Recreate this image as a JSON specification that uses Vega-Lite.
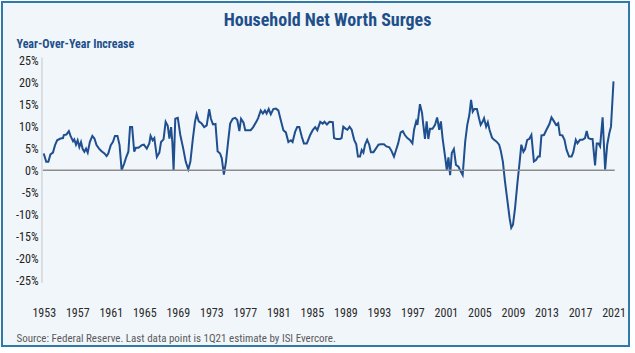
{
  "$schema": "https://vega.github.io/schema/vega-lite/v6.json",
  "width": 627,
  "height": 344,
  "autosize": {"type": "none"},
  "padding": {"left": 2, "top": 2, "right": 6, "bottom": 7},
  "background": "#ffffff",
  "config": {
    "view": {"fill": "#f1f6fa", "stroke": "#2e7bab", "strokeWidth": 2},
    "font": "Roboto Condensed, DejaVu Sans Condensed, Roboto, sans-serif",
    "axis": {"labelOverlap": false, "labelFlush": false}
  },
  "title": {
    "text": "Household Net Worth Surges",
    "font": "Roboto Condensed, DejaVu Sans Condensed, Roboto, sans-serif",
    "fontSize": 18,
    "fontWeight": "bold",
    "color": "#1f4f8a",
    "anchor": "middle",
    "baseline": "alphabetic",
    "offset": 0,
    "dy": 42,
    "dx": 12
  },
  "data": {
    "values": [
      {"year": 1953.0, "value": 3.8}, {"year": 1953.3, "value": 1.9}, {"year": 1953.55, "value": 1.9}, {"year": 1953.8, "value": 3.6},
      {"year": 1954.1, "value": 4.0}, {"year": 1954.35, "value": 5.7}, {"year": 1954.6, "value": 6.8}, {"year": 1955.0, "value": 7.2},
      {"year": 1955.3, "value": 7.3}, {"year": 1955.4, "value": 8.0}, {"year": 1955.7, "value": 8.1}, {"year": 1956.0, "value": 8.9},
      {"year": 1956.2, "value": 7.8}, {"year": 1956.5, "value": 6.6}, {"year": 1956.65, "value": 7.0}, {"year": 1956.85, "value": 5.8},
      {"year": 1957.05, "value": 6.8}, {"year": 1957.25, "value": 5.3}, {"year": 1957.45, "value": 6.4}, {"year": 1957.65, "value": 4.8},
      {"year": 1957.85, "value": 4.2}, {"year": 1958.05, "value": 4.9}, {"year": 1958.25, "value": 4.0}, {"year": 1958.5, "value": 6.4},
      {"year": 1958.8, "value": 7.8}, {"year": 1959.05, "value": 7.2}, {"year": 1959.3, "value": 5.7}, {"year": 1959.6, "value": 4.9},
      {"year": 1959.9, "value": 4.3}, {"year": 1960.25, "value": 3.8}, {"year": 1960.5, "value": 3.2}, {"year": 1960.7, "value": 3.8},
      {"year": 1961.0, "value": 5.7}, {"year": 1961.25, "value": 6.4}, {"year": 1961.5, "value": 7.8}, {"year": 1961.8, "value": 7.8},
      {"year": 1962.05, "value": 5.7}, {"year": 1962.3, "value": 0.0}, {"year": 1962.6, "value": 1.5}, {"year": 1962.85, "value": 3.0},
      {"year": 1963.1, "value": 4.2}, {"year": 1963.3, "value": 9.8}, {"year": 1963.55, "value": 9.8}, {"year": 1963.8, "value": 4.2},
      {"year": 1964.0, "value": 5.1}, {"year": 1964.3, "value": 5.1}, {"year": 1964.7, "value": 5.7}, {"year": 1964.95, "value": 5.8},
      {"year": 1965.3, "value": 4.9}, {"year": 1965.6, "value": 6.1}, {"year": 1965.75, "value": 7.8}, {"year": 1966.0, "value": 6.8},
      {"year": 1966.2, "value": 7.3}, {"year": 1966.5, "value": 3.0}, {"year": 1966.8, "value": 4.0}, {"year": 1967.0, "value": 6.4},
      {"year": 1967.3, "value": 7.0}, {"year": 1967.55, "value": 11.0}, {"year": 1967.8, "value": 10.1}, {"year": 1968.0, "value": 7.2},
      {"year": 1968.2, "value": 9.8}, {"year": 1968.35, "value": 6.4}, {"year": 1968.5, "value": 0.0}, {"year": 1968.7, "value": 11.7},
      {"year": 1969.0, "value": 11.9}, {"year": 1969.3, "value": 8.0}, {"year": 1969.65, "value": 4.9}, {"year": 1969.95, "value": 1.9},
      {"year": 1970.25, "value": 0.2}, {"year": 1970.5, "value": 1.9}, {"year": 1970.8, "value": 7.2}, {"year": 1971.05, "value": 11.0},
      {"year": 1971.25, "value": 12.7}, {"year": 1971.5, "value": 11.1}, {"year": 1971.85, "value": 10.6}, {"year": 1972.15, "value": 9.8},
      {"year": 1972.45, "value": 10.2}, {"year": 1972.75, "value": 13.9}, {"year": 1972.95, "value": 11.7}, {"year": 1973.2, "value": 10.4},
      {"year": 1973.5, "value": 10.5}, {"year": 1973.75, "value": 4.3}, {"year": 1974.05, "value": 3.8}, {"year": 1974.25, "value": 2.7},
      {"year": 1974.5, "value": -1.0}, {"year": 1974.75, "value": 1.9}, {"year": 1975.0, "value": 6.4}, {"year": 1975.25, "value": 10.6},
      {"year": 1975.55, "value": 11.7}, {"year": 1975.85, "value": 11.9}, {"year": 1976.1, "value": 11.4}, {"year": 1976.35, "value": 8.9},
      {"year": 1976.55, "value": 11.7}, {"year": 1976.85, "value": 10.8}, {"year": 1977.05, "value": 9.1}, {"year": 1977.3, "value": 9.1},
      {"year": 1977.7, "value": 9.1}, {"year": 1978.0, "value": 9.8}, {"year": 1978.4, "value": 11.1}, {"year": 1978.6, "value": 11.9},
      {"year": 1978.9, "value": 13.6}, {"year": 1979.15, "value": 12.9}, {"year": 1979.4, "value": 13.6}, {"year": 1979.6, "value": 12.9},
      {"year": 1979.85, "value": 13.9}, {"year": 1980.1, "value": 12.7}, {"year": 1980.4, "value": 13.9}, {"year": 1980.7, "value": 14.0},
      {"year": 1981.0, "value": 13.6}, {"year": 1981.25, "value": 11.7}, {"year": 1981.6, "value": 9.1}, {"year": 1981.9, "value": 8.6},
      {"year": 1982.2, "value": 6.4}, {"year": 1982.5, "value": 6.8}, {"year": 1982.7, "value": 6.4}, {"year": 1983.0, "value": 8.7},
      {"year": 1983.25, "value": 9.8}, {"year": 1983.5, "value": 9.8}, {"year": 1983.8, "value": 7.6}, {"year": 1984.05, "value": 6.1},
      {"year": 1984.4, "value": 6.1}, {"year": 1984.8, "value": 8.0}, {"year": 1985.1, "value": 9.1}, {"year": 1985.4, "value": 9.8},
      {"year": 1985.65, "value": 9.1}, {"year": 1986.0, "value": 11.0}, {"year": 1986.3, "value": 10.6}, {"year": 1986.5, "value": 11.0},
      {"year": 1986.8, "value": 10.4}, {"year": 1987.1, "value": 11.0}, {"year": 1987.5, "value": 10.9}, {"year": 1987.65, "value": 7.3},
      {"year": 1987.95, "value": 7.1}, {"year": 1988.35, "value": 7.1}, {"year": 1988.55, "value": 7.3}, {"year": 1988.75, "value": 9.9},
      {"year": 1989.05, "value": 9.4}, {"year": 1989.25, "value": 9.2}, {"year": 1989.5, "value": 9.9}, {"year": 1989.75, "value": 9.2},
      {"year": 1990.05, "value": 6.9}, {"year": 1990.3, "value": 5.9}, {"year": 1990.5, "value": 3.1}, {"year": 1990.75, "value": 3.1},
      {"year": 1990.95, "value": 4.6}, {"year": 1991.15, "value": 4.0}, {"year": 1991.35, "value": 5.8}, {"year": 1991.6, "value": 6.9},
      {"year": 1991.85, "value": 5.8}, {"year": 1992.05, "value": 4.1}, {"year": 1992.35, "value": 4.1}, {"year": 1992.6, "value": 4.8},
      {"year": 1992.95, "value": 5.8}, {"year": 1993.2, "value": 5.9}, {"year": 1993.6, "value": 5.9}, {"year": 1993.9, "value": 5.4},
      {"year": 1994.25, "value": 5.2}, {"year": 1994.5, "value": 4.4}, {"year": 1994.8, "value": 3.1}, {"year": 1995.05, "value": 4.6},
      {"year": 1995.3, "value": 6.1}, {"year": 1995.6, "value": 8.6}, {"year": 1995.85, "value": 8.9}, {"year": 1996.1, "value": 8.0},
      {"year": 1996.4, "value": 7.3}, {"year": 1996.7, "value": 6.9}, {"year": 1997.0, "value": 6.1}, {"year": 1997.2, "value": 9.2},
      {"year": 1997.45, "value": 11.1}, {"year": 1997.6, "value": 10.3}, {"year": 1997.9, "value": 15.0}, {"year": 1998.15, "value": 13.0},
      {"year": 1998.3, "value": 10.3}, {"year": 1998.5, "value": 7.1}, {"year": 1998.7, "value": 11.1}, {"year": 1998.9, "value": 7.1},
      {"year": 1999.1, "value": 9.4}, {"year": 1999.4, "value": 9.4}, {"year": 1999.7, "value": 10.3}, {"year": 1999.95, "value": 12.0},
      {"year": 2000.2, "value": 9.2}, {"year": 2000.4, "value": 11.1}, {"year": 2000.6, "value": 7.3}, {"year": 2000.9, "value": 3.1},
      {"year": 2001.1, "value": 0.1}, {"year": 2001.3, "value": 2.9}, {"year": 2001.5, "value": -1.1}, {"year": 2001.7, "value": 3.9},
      {"year": 2001.95, "value": 4.8}, {"year": 2002.2, "value": 1.2}, {"year": 2002.5, "value": 0.8}, {"year": 2002.75, "value": -0.2},
      {"year": 2003.0, "value": -1.1}, {"year": 2003.3, "value": 6.5}, {"year": 2003.55, "value": 10.3}, {"year": 2003.8, "value": 12.6},
      {"year": 2004.0, "value": 16.0}, {"year": 2004.2, "value": 13.3}, {"year": 2004.4, "value": 13.9}, {"year": 2004.7, "value": 13.9},
      {"year": 2004.95, "value": 11.8}, {"year": 2005.15, "value": 10.3}, {"year": 2005.4, "value": 11.1}, {"year": 2005.55, "value": 11.8},
      {"year": 2005.8, "value": 9.9}, {"year": 2006.0, "value": 10.9}, {"year": 2006.2, "value": 9.2}, {"year": 2006.5, "value": 7.4},
      {"year": 2006.75, "value": 6.9}, {"year": 2007.05, "value": 6.5}, {"year": 2007.35, "value": 5.8}, {"year": 2007.55, "value": 4.4},
      {"year": 2007.8, "value": 1.9}, {"year": 2008.05, "value": -2.6}, {"year": 2008.35, "value": -7.1}, {"year": 2008.6, "value": -10.9},
      {"year": 2008.8, "value": -13.1}, {"year": 2009.0, "value": -12.4}, {"year": 2009.25, "value": -8.6}, {"year": 2009.55, "value": -2.6},
      {"year": 2009.8, "value": 1.9}, {"year": 2010.0, "value": 5.8}, {"year": 2010.25, "value": 4.2}, {"year": 2010.45, "value": 4.8},
      {"year": 2010.7, "value": 6.9}, {"year": 2010.95, "value": 7.1}, {"year": 2011.2, "value": 8.0}, {"year": 2011.5, "value": 2.0},
      {"year": 2011.75, "value": 2.3}, {"year": 2012.0, "value": 3.1}, {"year": 2012.2, "value": 3.1}, {"year": 2012.4, "value": 7.9},
      {"year": 2012.7, "value": 8.0}, {"year": 2013.0, "value": 9.2}, {"year": 2013.35, "value": 10.5}, {"year": 2013.6, "value": 12.0},
      {"year": 2013.9, "value": 11.1}, {"year": 2014.15, "value": 10.3}, {"year": 2014.4, "value": 10.7}, {"year": 2014.6, "value": 8.0},
      {"year": 2014.9, "value": 7.9}, {"year": 2015.15, "value": 6.9}, {"year": 2015.4, "value": 4.6}, {"year": 2015.7, "value": 3.1},
      {"year": 2016.0, "value": 3.1}, {"year": 2016.2, "value": 4.1}, {"year": 2016.5, "value": 6.9}, {"year": 2016.7, "value": 6.1},
      {"year": 2017.0, "value": 6.9}, {"year": 2017.3, "value": 6.9}, {"year": 2017.6, "value": 7.3}, {"year": 2017.8, "value": 8.9},
      {"year": 2018.0, "value": 7.3}, {"year": 2018.25, "value": 7.1}, {"year": 2018.5, "value": 7.1}, {"year": 2018.8, "value": 1.1},
      {"year": 2019.0, "value": 6.1}, {"year": 2019.2, "value": 6.1}, {"year": 2019.4, "value": 5.4}, {"year": 2019.7, "value": 12.0},
      {"year": 2020.0, "value": 0.1}, {"year": 2020.25, "value": 5.8}, {"year": 2020.5, "value": 8.4}, {"year": 2020.7, "value": 9.9},
      {"year": 2021.0, "value": 20.2}
    ]
  },
  "layer": [
    {
      "mark": {"type": "line", "color": "#1f4f8f", "strokeWidth": 2, "strokeJoin": "miter"},
      "encoding": {
        "x": {
          "field": "year",
          "type": "quantitative",
          "scale": {"domain": [1948.02, 2022.85], "nice": false, "zero": false},
          "axis": {
            "orient": "bottom",
            "offset": -42,
            "values": [1953, 1957, 1961, 1965, 1969, 1973, 1977, 1981, 1985, 1989, 1993, 1997, 2001, 2005, 2009, 2013, 2017, 2021],
            "tickCount": 100,
            "format": "d",
            "domain": false,
            "ticks": false,
            "grid": false,
            "labelOverlap": false,
            "labelFlush": false,
            "labelPadding": 3,
            "labelFontSize": 12,
            "labelColor": "#2b2b2b",
            "labelFont": "Roboto Condensed, DejaVu Sans Condensed, Roboto, sans-serif",
            "title": "Source: Federal Reserve. Last data point is 1Q21 estimate by ISI Evercore.",
            "titleX": 14,
            "titleY": 37,
            "titleAlign": "left",
            "titleAnchor": null,
            "titleBaseline": "alphabetic",
            "titleFont": "Roboto Condensed, DejaVu Sans Condensed, Roboto, sans-serif",
            "titleFontSize": 11,
            "titleFontWeight": "normal",
            "titleColor": "#5a5a5a"
          }
        },
        "y": {
          "field": "value",
          "type": "quantitative",
          "scale": {"domain": [-39.95, 38.23], "nice": false, "zero": false},
          "axis": {
            "orient": "left",
            "offset": -40,
            "values": [-25, -20, -15, -10, -5, 0, 5, 10, 15, 20, 25],
            "tickCount": 100,
            "labelExpr": "datum.value + '%'",
            "domain": false,
            "ticks": false,
            "grid": false,
            "labelOverlap": false,
            "labelFlush": false,
            "labelPadding": 4,
            "labelFontSize": 12,
            "labelColor": "#222222",
            "labelFont": "Roboto Condensed, DejaVu Sans Condensed, Roboto, sans-serif",
            "title": "Year-Over-Year Increase",
            "titleAngle": 0,
            "titleX": -26,
            "titleY": 45,
            "titleAlign": "left",
            "titleAnchor": null,
            "titleBaseline": "alphabetic",
            "titleFont": "Roboto Condensed, DejaVu Sans Condensed, Roboto, sans-serif",
            "titleFontSize": 12,
            "titleFontWeight": "bold",
            "titleColor": "#1f4f8a"
          }
        }
      }
    },
    {
      "data": {"values": [{}]},
      "mark": {"type": "rule", "color": "#c4c7ca", "strokeWidth": 1},
      "encoding": {
        "x": {"datum": 1952.79, "type": "quantitative"},
        "y": {"datum": 25.6, "type": "quantitative"},
        "y2": {"datum": -25.6}
      }
    },
    {
      "data": {"values": [{}]},
      "mark": {"type": "rule", "color": "#8c8c8c", "strokeWidth": 1.5},
      "encoding": {
        "y": {"datum": 0, "type": "quantitative"},
        "x": {"datum": 1952.9, "type": "quantitative"},
        "x2": {"datum": 2021.15}
      }
    }
  ]
}
